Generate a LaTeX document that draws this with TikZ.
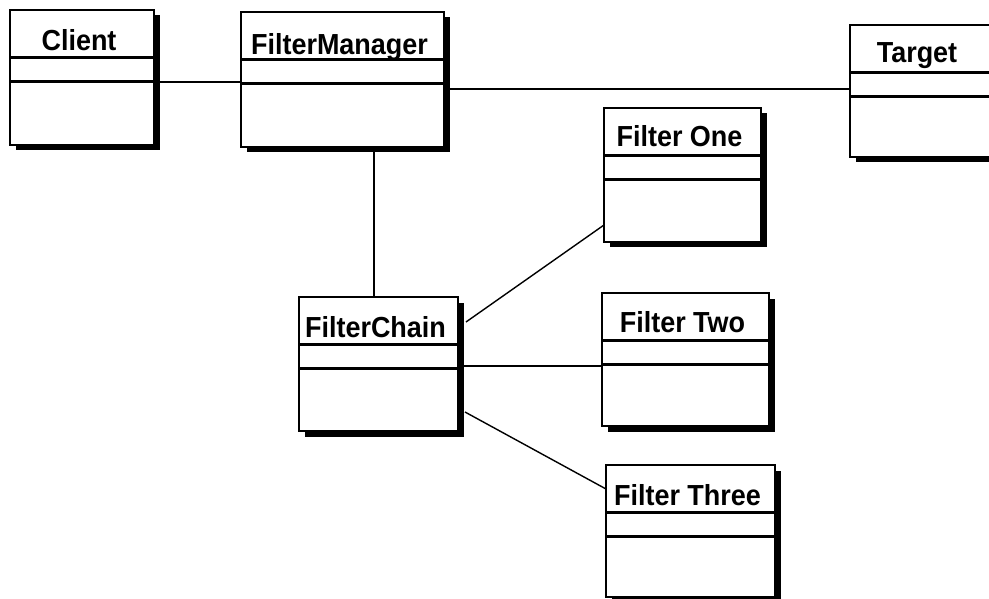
\documentclass[tikz,border=0pt]{standalone}
\usepackage{fontspec}
\setmainfont{Liberation Sans}
\tikzset{
  clsbox/.style={draw=black, fill=white, line width=2.4pt, rectangle, inner sep=0pt, outer sep=0pt},
  sepline/.style={line width=2.2pt},
  clstext/.style={anchor=base, inner sep=0pt, xscale=0.93, transform shape, font=\bfseries\fontsize{29}{32}\selectfont},
  conn/.style={line width=1.4pt}
}
\newcommand\umlcls[7]{%
  \fill[black] (#2+5.5,#3+5.5) rectangle (#4+5.5,#5+5.5);
  \node[clsbox, minimum width={#4pt-#2pt}, minimum height={#5pt-#3pt}] (#1) at ({(#2+#4)/2},{(#3+#5)/2}) {};
  \draw[sepline] ([yshift=-47.5pt]#1.north west) -- ([yshift=-47.5pt]#1.north east);
  \draw[sepline] ([yshift=-71.5pt]#1.north west) -- ([yshift=-71.5pt]#1.north east);
  \node[clstext] (#1-t) at ({(#2+#4)/2-3},#6) {#7};
}
\begin{document}
\begin{tikzpicture}[x=1pt,y=-1pt]
\useasboundingbox (0,0) rectangle (989,599);
\clip (0,0) rectangle (989,599);
\umlcls{client}{10}{10}{154}{145}{50.5}{Client}
\umlcls{fm}{241}{12}{444}{147}{55}{FilterManager}
\umlcls{target}{850}{25}{990}{157}{63}{Target}
\umlcls{fone}{604}{108}{761}{242}{147}{Filter One}
\umlcls{fc}{299}{297}{458}{431}{337}{FilterChain}
\umlcls{ftwo}{602}{293}{769}{426}{332}{Filter Two}
\umlcls{fthree}{606}{465}{775}{597}{505}{Filter Three}
% connectors
\draw[conn] ([yshift=-4.5pt]client.east) -- ([yshift=-4.5pt]client.east -| fm.west);
\draw[conn] ([yshift=-9.5pt]fm.east) -- ([yshift=-9.5pt]fm.east -| target.west);
\draw[conn] ([xshift=31.5pt]fm.south) -- ([xshift=31.5pt]fm.south |- fc.north);
\draw[conn] ([shift={(8pt,42pt)}]fc.east) -- ([yshift=-50pt]fone.west);
\draw[conn] ([yshift=-2pt]fc.east) -- ([yshift=-2pt]fc.east -| ftwo.west);
\draw[conn] ([shift={(7pt,-48pt)}]fc.east) -- ([yshift=42pt]fthree.west);
\end{tikzpicture}
\end{document}
